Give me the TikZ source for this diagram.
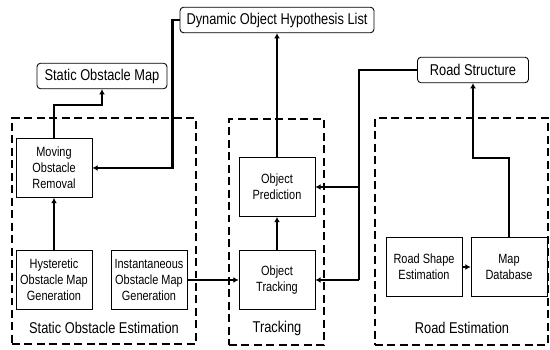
\documentclass[tikz,border=0pt]{standalone}
\usepackage{fontspec}
\setmainfont[FakeStretch=0.82]{Liberation Sans}
\usetikzlibrary{arrows.meta}

\begin{document}
\begin{tikzpicture}[
    x=0.02cm, y=-0.02cm,
    box/.style={
        draw, rectangle, line width=0.5pt,
        minimum width=1.52cm, minimum height=1.18cm, inner sep=1pt,
        align=center, font=\fontsize{7.6}{9}\selectfont
    },
    outbox/.style={
        draw, rectangle, rounded corners=2pt, line width=0.5pt,
        minimum height=0.51cm, inner sep=1pt,
        align=center, font=\fontsize{8.9}{10}\selectfont
    },
    group/.style={
        draw, rectangle, line width=1.6pt, dash pattern=on 4.5pt off 2.6pt
    },
    glabel/.style={font=\fontsize{8.9}{10}\selectfont},
    arr/.style={-{Latex[length=3pt, width=3.4pt]}, line width=1.5pt},
    wire/.style={line width=1.5pt}
]
\useasboundingbox (0,0) rectangle (550,350);

%% ---- Dashed groups ----
\node[group, minimum width=3.68cm, minimum height=4.52cm] at (104,231)   (soe) {};
\node[group, minimum width=1.90cm, minimum height=4.52cm] at (276.5,232) (trk) {};
\node[group, minimum width=3.46cm, minimum height=4.54cm] at (461.5,231.5) (ret) {};

\node[glabel] at (104,328) (soelbl) {Static Obstacle Estimation};
\node[glabel] at (277,328) (trklbl) {Tracking};
\node[glabel] at (462,328) (retlbl) {Road Estimation};

%% ---- Outputs (top row) ----
\node[outbox, minimum width=3.88cm] at (277,20)  (dohl) {Dynamic Object Hypothesis List};
\node[outbox, minimum width=2.60cm] at (102,76)  (som)  {Static Obstacle Map};
\node[outbox, minimum width=2.22cm] at (473,70)  (rs)   {Road Structure};

%% ---- Processing blocks ----
\node[box] at (54,168)  (mor)   {Moving\\Obstacle\\Removal};
\node[box] at (54,280)  (hyst)  {Hysteretic\\Obstacle Map\\Generation};
\node[box] at (149,280) (inst)  {Instantaneous\\Obstacle Map\\Generation};
\node[box] at (277,187) (pred)  {Object\\Prediction};
\node[box] at (277,280) (track) {Object\\Tracking};
\node[box] at (424,267) (road)  {Road Shape\\Estimation};
\node[box] at (509,267) (mapdb) {Map\\Database};

%% ---- Arrows ----

% static obstacle branch
\draw[arr] (hyst.north) -- (mor.south);
\draw[arr] (mor.north) -- ++(0,-33) -| (som.south);
\draw[arr] (dohl.west) -- ++(-7,0) |- (mor.east);

% tracking branch
\draw[arr] (inst.east) -- (track.west);
\draw[arr] (track.north) -- (pred.south);
\draw[arr] (pred.north) -- (dohl.south);

% road branch
\draw[arr] (road.east) -- (mapdb.west);
\draw[arr] (mapdb.north) -- ++(0,-79) -| (rs.south);

% road structure feeds back into tracking
\coordinate (junc) at (359,280);
\draw[wire] (rs.west) -| (junc);
\draw[arr] (junc |- pred.east) -- (pred.east);
\draw[arr] (junc) -- (track.east);

\end{tikzpicture}
\end{document}
